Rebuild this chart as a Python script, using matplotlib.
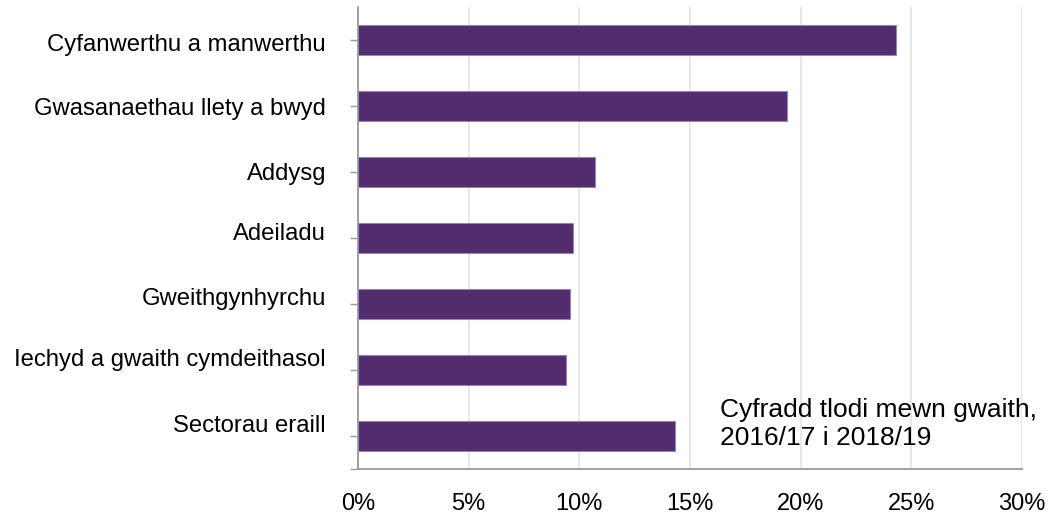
import matplotlib
matplotlib.use("Agg")
import matplotlib.pyplot as plt
from matplotlib.ticker import FuncFormatter, FixedLocator
from matplotlib.transforms import ScaledTranslation

categories = ["Cyfanwerthu a manwerthu", "Gwasanaethau llety a bwyd", "Addysg",
              "Adeiladu", "Gweithgynhyrchu", "Iechyd a gwaith cymdeithasol",
              "Sectorau eraill"]
values = [24.3, 19.4, 10.7, 9.7, 9.6, 9.4, 14.3]
xticks = [0, 5, 10, 15, 20, 25, 30]
note = "Cyfradd tlodi mewn gwaith,\n2016/17 i 2018/19"

# vertical nudge (pixels, up positive) of each category label as in the source
label_nudge_px = [-2.5, 0, 1, 7, 8, 12.5, 13]

plt.rcParams['font.family'] = ['Liberation Sans', 'DejaVu Sans']

DPI = 100
fig = plt.figure(figsize=(10.5, 5.17), dpi=DPI)
ax = fig.add_axes([358/1050, 1-469/517, (1022-358)/1050, (469-7)/517])

y = list(range(len(categories)))
ax.barh(y, values, height=0.455, color="#522D6D", edgecolor="#9A83AE",
        linewidth=0.8, zorder=3)

ax.set_ylim(len(categories)-0.5, -0.5)
ax.set_xlim(0, 30)
ax.set_xticks(xticks)
ax.xaxis.set_major_formatter(FuncFormatter(lambda v, p: f"{int(v)}%"))
ax.set_yticks(y)
ax.set_yticklabels(categories)
ax.yaxis.set_minor_locator(FixedLocator([len(categories)-0.5]))

ax.grid(axis="x", color="#E8E8E8", linewidth=1.5, zorder=0)
ax.set_axisbelow(True)

for s in ["top", "right"]:
    ax.spines[s].set_visible(False)
for s in ["left", "bottom"]:
    ax.spines[s].set_color("#9A9A9A")
    ax.spines[s].set_linewidth(1.3)

ax.tick_params(axis="x", length=0, pad=17, labelsize=17, colors="black")
ax.tick_params(axis="y", which="both", length=6, width=1.0, color="#9A9A9A",
               pad=17, labelsize=17.2)
ax.tick_params(axis="y", which="minor", length=6)

for lab, dy in zip(ax.get_yticklabels(), label_nudge_px):
    lab.set_transform(lab.get_transform() + ScaledTranslation(0, dy/DPI, fig.dpi_scale_trans))

fig.text(720/1050, 1-424/517, note, fontsize=19, va="center", ha="left",
         linespacing=1.25)

fig.savefig("out.png", dpi=DPI)
